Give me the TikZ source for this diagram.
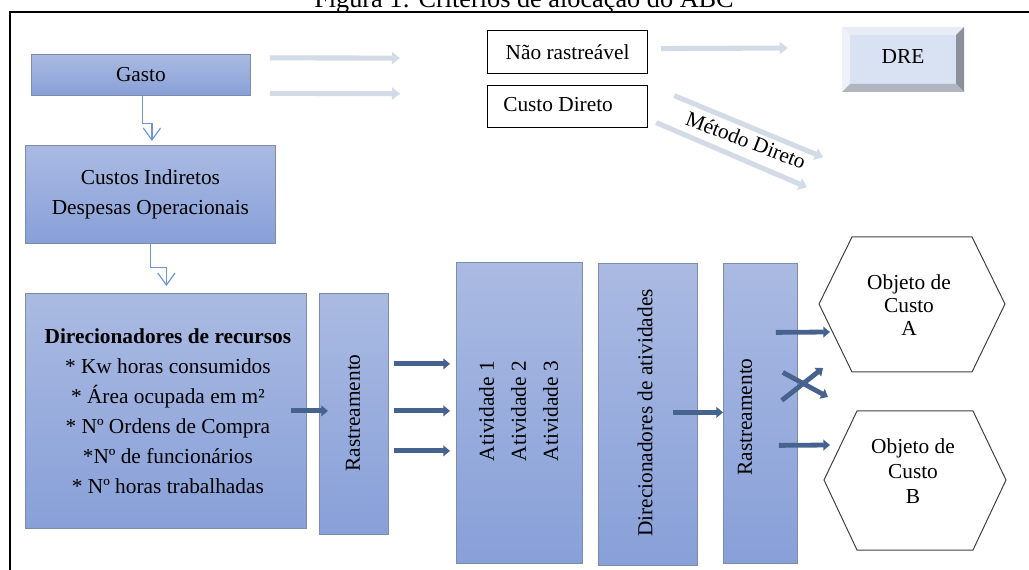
\documentclass[tikz,border=0pt]{standalone}
\usepackage{fontspec}
\setmainfont{Liberation Serif}
\usetikzlibrary{arrows.meta,calc}
\definecolor{boxtop}{HTML}{AABAE2}
\definecolor{boxbot}{HTML}{88A0D8}
\definecolor{boxedge}{HTML}{7D8CA8}
\definecolor{darr}{HTML}{46628F}
\definecolor{larr}{HTML}{D3DBE7}
\definecolor{elbowc}{HTML}{6F95D8}
\definecolor{dreface}{HTML}{D9E2F3}
\definecolor{drelite}{HTML}{E8ECF5}
\definecolor{dreleft}{HTML}{EEF1F8}
\definecolor{dredark}{HTML}{8C9199}
\definecolor{dremid}{HTML}{B0B5BF}
\tikzset{
  bluebox/.style={draw=boxedge, line width=0.6pt, top color=boxtop, bottom color=boxbot,
    inner sep=0pt, anchor=north west, align=center},
  whitebox/.style={draw=black, line width=0.9pt, fill=white, inner sep=0pt, anchor=north west},
  darkarrow/.style={draw=darr, line width=3.6pt, -{Triangle[length=5pt,width=8pt]}},
  lightarrow/.style={draw=larr, line width=3.8pt, -{Triangle[length=6pt,width=9pt]}},
  elbowarrow/.style={draw=elbowc, line width=0.9pt, -{Straight Barb[length=9pt,width=13pt,line width=0.9pt]}},
  hexline/.style={draw=black!75, line width=0.75pt},
  rottext/.style={rotate=90, align=left}
}
\begin{document}
\begin{tikzpicture}[x=0.75pt,y=-0.75pt,font=\fontsize{16}{22.5}\selectfont]
\useasboundingbox (0,0) rectangle (1029,570);
\clip (0,0) rectangle (1029,570);
% title (cut at top)
\node[anchor=base, inner sep=0pt, font=\fontsize{19.7}{22}\selectfont] (title) at (524,8) {Figura 1: Critérios de alocação do ABC};
% frame
\draw[line width=1.5pt] (10,575) -- (10,12.5) -- (1035,12.5);

% blue boxes
\node[bluebox, minimum width=219*0.75pt, minimum height=41*0.75pt] (gasto) at (31,54) {};
\node (gastot) at (gasto.center) {Gasto};
\node[bluebox, minimum width=250*0.75pt, minimum height=98*0.75pt] (custos) at (25,145) {};
\node[align=center] (custost) at (custos.center) {Custos Indiretos\\Despesas Operacionais};
\node[bluebox, minimum width=281*0.75pt, minimum height=235*0.75pt] (dirrec) at (25,293) {};
\node[align=center] (dirrect) at ($(dirrec.center)+(2,0)$) {\textbf{Direcionadores de recursos}\\* Kw horas consumidos\\* Área ocupada em m²\\* Nº Ordens de Compra\\*Nº de funcionários\\* Nº horas trabalhadas};
\node[bluebox, minimum width=69*0.75pt, minimum height=241*0.75pt] (rast1) at (319,293) {};
\node[rottext] (rast1t) at (353,413) {Rastreamento};
\node[bluebox, minimum width=126*0.75pt, minimum height=301*0.75pt] (ativ) at (456,262) {};
\node[rottext, font=\fontsize{16}{24}\selectfont] (ativt) at (518.5,411) {Atividade 1\\Atividade 2\\Atividade 3};
\node[bluebox, minimum width=99*0.75pt, minimum height=302*0.75pt] (dirat) at (598,263) {};
\node[rottext] (diratt) at (645,413) {Direcionadores de atividades};
\node[bluebox, minimum width=74*0.75pt, minimum height=300*0.75pt] (rast2) at (723,263) {};
\node[rottext] (rast2t) at (745,417) {Rastreamento};

% white boxes
\node[whitebox, minimum width=160*0.75pt, minimum height=43*0.75pt] (nr) at (487,30) {};
\node (nrt) at (nr.center) {Não rastreável};
\node[whitebox, minimum width=160*0.75pt, minimum height=42*0.75pt] (cd) at (487,85) {};
\node[anchor=west, inner sep=0pt] (cdt) at (503,105) {Custo Direto};

% DRE bevel box
\fill[dreface] (842,27) rectangle (964,92);
\fill[drelite] (842,27) -- (964,27) -- (956,35) -- (850,35) -- cycle;
\fill[dreleft] (842,27) -- (850,35) -- (850,84) -- (842,92) -- cycle;
\fill[dredark] (964,27) -- (964,92) -- (956,84) -- (956,35) -- cycle;
\fill[dremid] (842,92) -- (964,92) -- (956,84) -- (850,84) -- cycle;
\node[inner sep=0pt, minimum width=122*0.75pt, minimum height=65*0.75pt] (dre) at (903,59.5) {};
\node (dret) at (903,57) {DRE};

% hexagons
\draw[hexline] (819,304) -- (852,237) -- (972,237) -- (1005,304) -- (972,372) -- (852,372) -- cycle;
\node[align=center, font=\fontsize{16}{17.5}\selectfont] (objA) at (909,305) {Objeto de\\Custo\\A};
\draw[hexline] (824,480) -- (857,411) -- (973,411) -- (1006,480) -- (973,550) -- (857,550) -- cycle;
\coordinate (hexAw) at (830,332);
\coordinate (hexBw) at (830,445);
\node[align=center, font=\fontsize{16}{19}\selectfont] (objB) at (913,471) {Objeto de\\Custo\\B};

% elbow connectors
\draw[elbowarrow] ($(gasto.south)+(1.5,0)$) -- ++(0,28) -| ($(custos.north)+(1.5,-4)$);
\draw[elbowarrow] (custos.south) -- ++(0,24) -| ($(dirrec.north)+(0.5,-7)$);

% light arrows
\draw[lightarrow] ($(gasto.east)+(19,-17)$) -- ($(nr.west)+(-87,6)$);
\draw[lightarrow] ($(gasto.east)+(19,18.5)$) -- ($(cd.west)+(-87,-13)$);
\draw[lightarrow] ($(nr.east)+(13,-3.5)$) -- ($(dre.west)+(-54,-11.5)$);
\draw[lightarrow] ($(cd.east)+(26,-11)$) -- ($(dre.south)+(-80,65)$);
\draw[lightarrow] ($(cd.east)+(8,16)$) -- ($(dre.south)+(-96,95)$);
\node[rotate=-21, inner sep=0pt] (metodo) at (746,140) {Método Direto};

% dark arrows
\draw[darkarrow] ($(dirrec.east)+(-16,0)$) -- ($(rast1.west |- dirrec.east)+(9,0)$);
\draw[darkarrow] ($(rast1.east)+(5,-50)$) -- ($(rast1.east -| ativ.west)+(-6,-50)$);
\draw[darkarrow] ($(rast1.east)+(5,-3)$) -- ($(rast1.east -| ativ.west)+(-6,-3)$);
\draw[darkarrow] ($(rast1.east)+(5,37)$) -- ($(rast1.east -| ativ.west)+(-6,37)$);
\draw[darkarrow] ($(dirat.east)+(-25,-2)$) -- ($(rast2.west |- dirat.east)+(0,-2)$);
\draw[darkarrow] ($(rast2.east)+(-22,-81)$) -- (hexAw);
\draw[darkarrow] ($(rast2.east)+(-19,32)$) -- (hexBw);
\draw[darkarrow] ($(rast2.east)+(-16,-13)$) -- ($(hexAw)+(-7,36)$);
\draw[darkarrow] ($(rast2.east)+(-15,-41)$) -- ($(hexAw)+(-2,65)$);
\end{tikzpicture}
\end{document}
